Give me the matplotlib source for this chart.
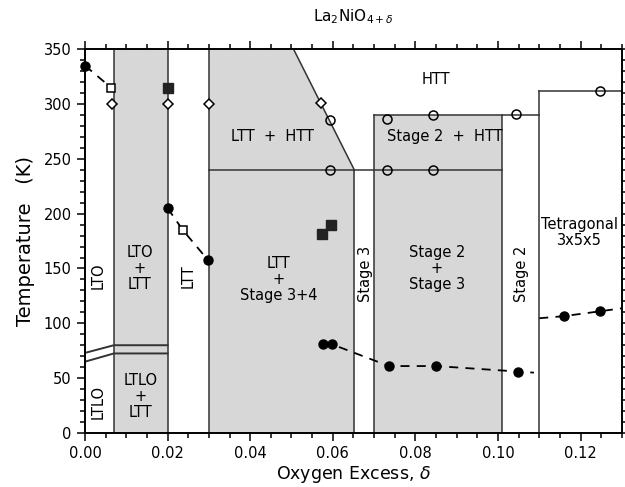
import numpy as np
import matplotlib.pyplot as plt
from matplotlib.ticker import MultipleLocator, FormatStrFormatter

# phase boundaries: oxygen excess (delta) and temperature (K)
x_lto = 0.007
x_ltt_lo = 0.020
x_ltt_hi = 0.030
x_st3_lo = 0.0652
x_st3_hi = 0.070
x_st2_lo = 0.101
x_tet = 0.110
diag_top = 0.0505
t_max = 350
t_ltt_htt = 240
t_st2_htt = 290
t_tet = 312

# LTO / LTLO double boundary
ltlo_x = [0.0, x_lto, x_ltt_lo]
ltlo_upper = [73, 80, 80]
ltlo_lower = [65, 72.5, 72.5]

# measured points
dash_a_x = [0.0, 0.0063]
dash_a_t = [335, 315]
dash_b_x = [0.020, 0.0237, 0.0297]
dash_b_t = [205, 185, 158]
dash_c_x = [0.0577, 0.0597, 0.0736, 0.0850, 0.1048, 0.1087]
dash_c_t = [81, 81, 61, 61, 56, 55]
dash_d_x = [0.110, 0.1159, 0.1248, 0.130]
dash_d_t = [104.6, 106.5, 111, 113.7]

filled_circ_x = [0.0, 0.020, 0.0297, 0.0577, 0.0597, 0.0736, 0.0850, 0.1048, 0.1159, 0.1248]
filled_circ_t = [335, 205, 158, 81, 81, 61, 61, 56, 106.5, 111]
open_sq_x = [0.0063, 0.0237]
open_sq_t = [315, 185]
filled_sq_x = [0.020, 0.0575, 0.0596]
filled_sq_t = [315, 181, 190]
open_circ_x = [0.0594, 0.0594, 0.0732, 0.0843, 0.0732, 0.0843, 0.1043, 0.1246]
open_circ_t = [285.5, 240, 286, 290, 240, 240, 291, 312]
open_dia_x = [0.0065, 0.020, 0.030, 0.0572]
open_dia_t = [300, 300, 300, 301]

# region labels: text, x, T, rotation
labels = [
    ("LTO", 0.0031, 143, 90),
    ("LTLO", 0.0031, 28, 90),
    ("LTO\n+\nLTT", 0.0133, 150, 0),
    ("LTLO\n+\nLTT", 0.0135, 33, 0),
    ("LTT", 0.0249, 143, 90),
    ("LTT\n+\nStage 3+4", 0.0468, 140, 0),
    ("LTT  +  HTT", 0.0454, 270, 0),
    ("HTT", 0.0850, 322, 0),
    ("Stage 2  +  HTT", 0.0872, 270, 0),
    ("Stage 3", 0.0678, 145, 90),
    ("Stage 2\n+\nStage 3", 0.0852, 150, 0),
    ("Stage 2", 0.1057, 145, 90),
    ("Tetragonal\n3x5x5", 0.1197, 183, 0),
]

shade = '#d7d7d7'
lc = '#333333'

fig = plt.figure(figsize=(6.25, 4.87), dpi=100)
ax = fig.add_axes([0.136, 0.111, 0.859, 0.788])

# shaded two-phase regions
ax.fill([x_lto, x_ltt_lo, x_ltt_lo, x_lto], [0, 0, t_max, t_max], color=shade, lw=0, zorder=1)
ax.fill([x_ltt_hi, x_st3_lo, x_st3_lo, diag_top, x_ltt_hi],
        [0, 0, t_ltt_htt, t_max, t_max], color=shade, lw=0, zorder=1)
ax.fill([x_st3_hi, x_st2_lo, x_st2_lo, x_st3_hi], [0, 0, t_st2_htt, t_st2_htt],
        color=shade, lw=0, zorder=1)

# boundary lines
kw = dict(color=lc, lw=1.1, zorder=2)
for xv in [x_lto, x_ltt_lo, x_ltt_hi]:
    ax.plot([xv, xv], [0, t_max], **kw)
ax.plot([x_st3_lo, x_st3_lo], [0, t_ltt_htt], **kw)
ax.plot([x_st3_lo, diag_top], [t_ltt_htt, t_max], **kw)
ax.plot([x_ltt_hi, x_st2_lo], [t_ltt_htt, t_ltt_htt], **kw)
ax.plot([x_st3_hi, x_st3_hi], [0, t_st2_htt], **kw)
ax.plot([x_st2_lo, x_st2_lo], [0, t_st2_htt], **kw)
ax.plot([x_st3_hi, x_tet], [t_st2_htt, t_st2_htt], **kw)
ax.plot([x_tet, x_tet], [0, t_tet], **kw)
ax.plot([x_tet, 0.13], [t_tet, t_tet], **kw)
ax.plot(ltlo_x, ltlo_upper, color=lc, lw=1.4, zorder=2)
ax.plot(ltlo_x, ltlo_lower, color=lc, lw=1.4, zorder=2)

# dashed guide lines
dkw = dict(color='black', lw=1.3, ls=(0, (5, 4)), zorder=3)
for xs, ts in [(dash_a_x, dash_a_t), (dash_b_x, dash_b_t),
               (dash_c_x, dash_c_t), (dash_d_x, dash_d_t)]:
    ax.plot(xs, ts, **dkw)

# data markers
ax.plot(filled_circ_x, filled_circ_t, 'o', color='black', ms=6.5, ls='none', zorder=5, clip_on=False)
ax.plot(filled_sq_x, filled_sq_t, 's', color='#222222', ms=6.5, ls='none', zorder=5)
ax.plot(open_sq_x, open_sq_t, 's', mfc='white', mec='black', mew=1.1, ms=6, ls='none', zorder=5)
ax.plot(open_circ_x, open_circ_t, 'o', mfc='none', mec='black', mew=1.1, ms=6.5, ls='none', zorder=5)
ax.plot(open_dia_x, open_dia_t, 'D', mfc='white', mec='black', mew=1.1, ms=5, ls='none', zorder=5)

for txt, xv, tv, rot in labels:
    ax.text(xv, tv, txt, ha='center', va='center', rotation=rot,
            fontsize=10.5, linespacing=1.1, zorder=6)

ax.set_xlim(0, 0.13)
ax.set_ylim(0, 350)
ax.xaxis.set_major_locator(MultipleLocator(0.02))
ax.xaxis.set_minor_locator(MultipleLocator(0.005))
ax.xaxis.set_major_formatter(FormatStrFormatter('%.2f'))
ax.yaxis.set_major_locator(MultipleLocator(50))
ax.yaxis.set_minor_locator(MultipleLocator(10))
ax.tick_params(which='both', direction='out', top=True, right=True, labelsize=10.5, width=1.1)
ax.tick_params(which='major', length=6)
ax.tick_params(which='minor', length=3.5)
for sp in ax.spines.values():
    sp.set_linewidth(1.4)

ax.set_xlabel(r'Oxygen Excess, $\delta$', fontsize=12.5, labelpad=2)
ax.set_ylabel('Temperature   (K)', fontsize=14, labelpad=6)
ax.set_title(r'La$_2$NiO$_{4+\delta}$', fontsize=11, pad=20)

fig.savefig('out.png', dpi=100)
